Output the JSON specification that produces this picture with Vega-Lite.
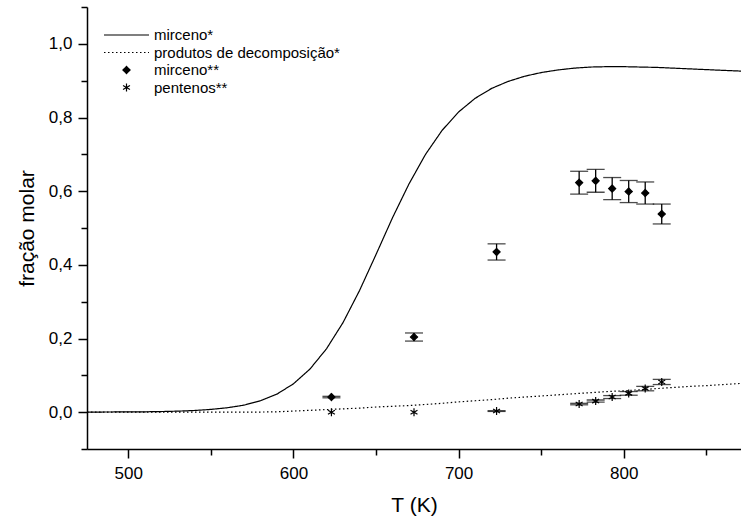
{
  "$schema": "https://vega.github.io/schema/vega-lite/v6.json",
  "autosize": {"type": "none"},
  "padding": {"left": 87, "top": 7, "right": 0, "bottom": 70},
  "width": 654,
  "height": 442,
  "config": {
    "view": {"stroke": null},
    "font": "Liberation Sans",
    "axis": {
      "domainColor": "black", "domainWidth": 1.5, "tickColor": "black", "tickWidth": 1.5,
      "labelColor": "black", "labelFont": "Liberation Sans", "labelFontSize": 17,
      "titleColor": "black", "titleFont": "Liberation Sans", "titleFontSize": 21, "titleFontWeight": "normal",
      "grid": false
    },
    "legend": {
      "orient": "none", "legendX": 16, "legendY": 20, "clipHeight": 16, "rowPadding": 1.5, "labelOffset": 4, "padding": 0, "labelLimit": 400,
      "symbolStrokeColor": "black", "symbolStrokeWidth": 1.2, "labelFont": "Liberation Sans", "labelFontSize": 15, "labelColor": "black"
    }
  },
  "datasets": {
    "curves": [
      {"series": "mirceno*", "T": 475, "v": 0.0002},
      {"series": "mirceno*", "T": 490, "v": 0.0005},
      {"series": "mirceno*", "T": 500, "v": 0.0007},
      {"series": "mirceno*", "T": 510, "v": 0.001},
      {"series": "mirceno*", "T": 520, "v": 0.0017},
      {"series": "mirceno*", "T": 530, "v": 0.0028},
      {"series": "mirceno*", "T": 540, "v": 0.0045},
      {"series": "mirceno*", "T": 550, "v": 0.0075},
      {"series": "mirceno*", "T": 560, "v": 0.012},
      {"series": "mirceno*", "T": 570, "v": 0.019},
      {"series": "mirceno*", "T": 580, "v": 0.031},
      {"series": "mirceno*", "T": 590, "v": 0.049},
      {"series": "mirceno*", "T": 600, "v": 0.077},
      {"series": "mirceno*", "T": 610, "v": 0.117},
      {"series": "mirceno*", "T": 620, "v": 0.172},
      {"series": "mirceno*", "T": 630, "v": 0.243},
      {"series": "mirceno*", "T": 640, "v": 0.33},
      {"series": "mirceno*", "T": 650, "v": 0.428},
      {"series": "mirceno*", "T": 660, "v": 0.528},
      {"series": "mirceno*", "T": 670, "v": 0.62},
      {"series": "mirceno*", "T": 680, "v": 0.7},
      {"series": "mirceno*", "T": 690, "v": 0.765},
      {"series": "mirceno*", "T": 700, "v": 0.815},
      {"series": "mirceno*", "T": 710, "v": 0.852},
      {"series": "mirceno*", "T": 720, "v": 0.879},
      {"series": "mirceno*", "T": 730, "v": 0.898},
      {"series": "mirceno*", "T": 740, "v": 0.912},
      {"series": "mirceno*", "T": 750, "v": 0.922},
      {"series": "mirceno*", "T": 760, "v": 0.929},
      {"series": "mirceno*", "T": 770, "v": 0.934},
      {"series": "mirceno*", "T": 780, "v": 0.937},
      {"series": "mirceno*", "T": 790, "v": 0.938},
      {"series": "mirceno*", "T": 800, "v": 0.938},
      {"series": "mirceno*", "T": 810, "v": 0.937},
      {"series": "mirceno*", "T": 820, "v": 0.936},
      {"series": "mirceno*", "T": 830, "v": 0.934},
      {"series": "mirceno*", "T": 840, "v": 0.932},
      {"series": "mirceno*", "T": 850, "v": 0.93},
      {"series": "mirceno*", "T": 860, "v": 0.928},
      {"series": "mirceno*", "T": 871, "v": 0.926},
      {"series": "produtos de decomposição*", "T": 475, "v": 0},
      {"series": "produtos de decomposição*", "T": 520, "v": 0},
      {"series": "produtos de decomposição*", "T": 560, "v": 0},
      {"series": "produtos de decomposição*", "T": 580, "v": 0.0003},
      {"series": "produtos de decomposição*", "T": 590, "v": 0.001},
      {"series": "produtos de decomposição*", "T": 600, "v": 0.003},
      {"series": "produtos de decomposição*", "T": 610, "v": 0.005},
      {"series": "produtos de decomposição*", "T": 620, "v": 0.007},
      {"series": "produtos de decomposição*", "T": 630, "v": 0.009},
      {"series": "produtos de decomposição*", "T": 640, "v": 0.011},
      {"series": "produtos de decomposição*", "T": 650, "v": 0.014},
      {"series": "produtos de decomposição*", "T": 660, "v": 0.016},
      {"series": "produtos de decomposição*", "T": 670, "v": 0.018},
      {"series": "produtos de decomposição*", "T": 680, "v": 0.021},
      {"series": "produtos de decomposição*", "T": 690, "v": 0.024},
      {"series": "produtos de decomposição*", "T": 700, "v": 0.028},
      {"series": "produtos de decomposição*", "T": 710, "v": 0.031},
      {"series": "produtos de decomposição*", "T": 720, "v": 0.034},
      {"series": "produtos de decomposição*", "T": 730, "v": 0.038},
      {"series": "produtos de decomposição*", "T": 740, "v": 0.041},
      {"series": "produtos de decomposição*", "T": 750, "v": 0.044},
      {"series": "produtos de decomposição*", "T": 760, "v": 0.047},
      {"series": "produtos de decomposição*", "T": 770, "v": 0.05},
      {"series": "produtos de decomposição*", "T": 780, "v": 0.053},
      {"series": "produtos de decomposição*", "T": 790, "v": 0.056},
      {"series": "produtos de decomposição*", "T": 800, "v": 0.058},
      {"series": "produtos de decomposição*", "T": 810, "v": 0.061},
      {"series": "produtos de decomposição*", "T": 820, "v": 0.064},
      {"series": "produtos de decomposição*", "T": 830, "v": 0.067},
      {"series": "produtos de decomposição*", "T": 840, "v": 0.07},
      {"series": "produtos de decomposição*", "T": 850, "v": 0.072},
      {"series": "produtos de decomposição*", "T": 860, "v": 0.075},
      {"series": "produtos de decomposição*", "T": 871, "v": 0.078}
    ],
    "points": [
      {"series": "mirceno**", "T": 623, "v": 0.041, "err": 0.002},
      {"series": "mirceno**", "T": 673, "v": 0.204, "err": 0.011},
      {"series": "mirceno**", "T": 723, "v": 0.435, "err": 0.022},
      {"series": "mirceno**", "T": 773, "v": 0.623, "err": 0.031},
      {"series": "mirceno**", "T": 783, "v": 0.628, "err": 0.031},
      {"series": "mirceno**", "T": 793, "v": 0.607, "err": 0.03},
      {"series": "mirceno**", "T": 803, "v": 0.599, "err": 0.03},
      {"series": "mirceno**", "T": 813, "v": 0.595, "err": 0.03},
      {"series": "mirceno**", "T": 823, "v": 0.538, "err": 0.027},
      {"series": "pentenos**", "T": 623, "v": 0.0, "err": 0},
      {"series": "pentenos**", "T": 673, "v": 0.0, "err": 0},
      {"series": "pentenos**", "T": 723, "v": 0.003, "err": 0.001},
      {"series": "pentenos**", "T": 773, "v": 0.022, "err": 0.002},
      {"series": "pentenos**", "T": 783, "v": 0.03, "err": 0.003},
      {"series": "pentenos**", "T": 793, "v": 0.041, "err": 0.004},
      {"series": "pentenos**", "T": 803, "v": 0.051, "err": 0.005},
      {"series": "pentenos**", "T": 813, "v": 0.064, "err": 0.006},
      {"series": "pentenos**", "T": 823, "v": 0.082, "err": 0.007}
    ]
  },
  "encoding": {
    "x": {
      "field": "T", "type": "quantitative",
      "scale": {"domain": [475, 871], "nice": false, "zero": false},
      "axis": {
        "title": "T (K)", "titlePadding": 13,
        "values": [500, 550, 600, 650, 700, 750, 800, 850],
        "labelExpr": "datum.value % 100 === 0 ? datum.value : ''",
        "tickSize": {"condition": {"test": "datum.value % 100 === 0", "value": 9}, "value": 6},
        "labelPadding": 7
      }
    },
    "y": {
      "field": "v", "type": "quantitative",
      "scale": {"domain": [-0.1, 1.1], "nice": false, "zero": false},
      "axis": {
        "title": "fração molar", "titlePadding": 11,
        "values": [-0.1, 0, 0.1, 0.2, 0.3, 0.4, 0.5, 0.6, 0.7, 0.8, 0.9, 1.0, 1.1],
        "labelExpr": "round(datum.value*10) % 2 === 0 ? replace(format(datum.value, '.1f'), '.', ',') : ''",
        "tickSize": {"condition": {"test": "round(datum.value*10) % 2 === 0", "value": 9}, "value": 6},
        "labelPadding": 6
      }
    }
  },
  "layer": [
    {
      "data": {"name": "curves"},
      "mark": {"type": "line", "stroke": "black", "strokeWidth": 1.2, "clip": true},
      "encoding": {
        "strokeDash": {
          "field": "series", "type": "nominal",
          "scale": {"domain": ["mirceno*", "produtos de decomposição*", "mirceno**", "pentenos**"], "range": [[1, 0], [1.5, 2.5], [1, 0], [1, 0]]},
          "legend": {"title": null, "orient": "none", "legendX": 16, "legendY": 20, "encode": {"symbols": {"update": {"stroke": {"value": "black"}, "strokeWidth": {"value": 1.2}}}}}
        }
      }
    },
    {
      "data": {"name": "points"},
      "transform": [{"filter": "datum.err > 0"}],
      "mark": {"type": "errorbar", "ticks": true, "size": 18, "thickness": 1.3, "color": "black"},
      "encoding": {
        "yError": {"field": "err"}
      }
    },
    {
      "data": {"name": "points"},
      "mark": {"type": "point", "stroke": "black", "strokeWidth": 1.2, "opacity": 1},
      "encoding": {
        "shape": {
          "field": "series", "type": "nominal",
          "scale": {"domain": ["mirceno*", "produtos de decomposição*", "mirceno**", "pentenos**"], "range": ["stroke", "stroke", "diamond", "M0,-1L0,1M-0.87,-0.5L0.87,0.5M-0.87,0.5L0.87,-0.5"]},
          "legend": {"title": null, "orient": "none", "legendX": 16, "legendY": 20, "encode": {"symbols": {"update": {"stroke": {"value": "black"}, "strokeWidth": {"value": 1.2}}}}}
        },
        "size": {
          "field": "series", "type": "nominal",
          "scale": {"type": "ordinal", "domain": ["mirceno*", "produtos de decomposição*", "mirceno**", "pentenos**"], "range": [2025, 2025, 50, 64]},
          "legend": {"title": null, "orient": "none", "legendX": 16, "legendY": 20, "encode": {"symbols": {"update": {"stroke": {"value": "black"}, "strokeWidth": {"value": 1.2}}}}}
        },
        "fill": {
          "field": "series", "type": "nominal",
          "scale": {"domain": ["mirceno*", "produtos de decomposição*", "mirceno**", "pentenos**"], "range": ["transparent", "transparent", "black", "transparent"]},
          "legend": {"title": null, "orient": "none", "legendX": 16, "legendY": 20, "encode": {"symbols": {"update": {"stroke": {"value": "black"}, "strokeWidth": {"value": 1.2}}}}}
        },
        "strokeDash": {
          "field": "series", "type": "nominal",
          "legend": {"title": null, "orient": "none", "legendX": 16, "legendY": 20, "encode": {"symbols": {"update": {"stroke": {"value": "black"}, "strokeWidth": {"value": 1.2}}}}}
        }
      }
    }
  ]
}
